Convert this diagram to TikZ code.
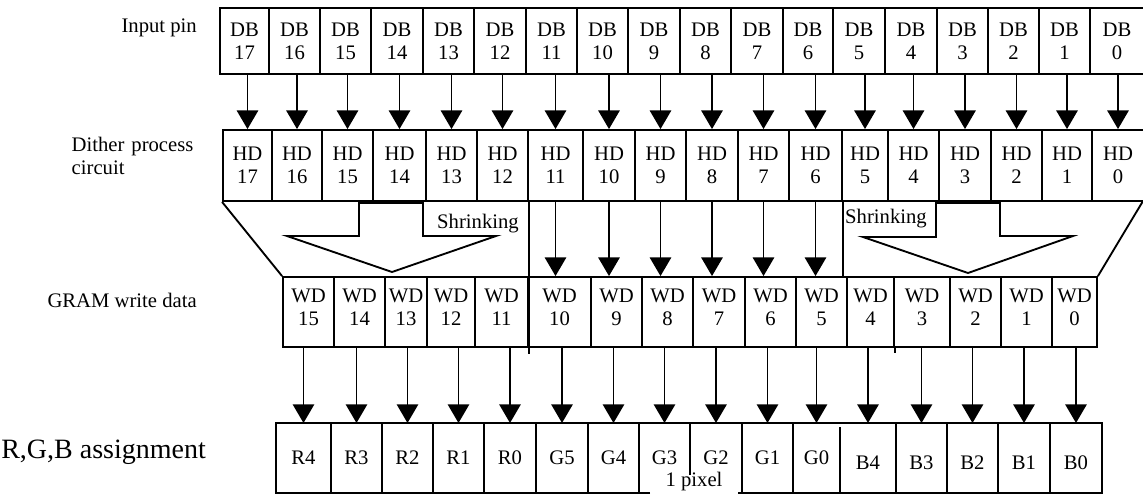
\documentclass[tikz,border=0pt]{standalone}
\usepackage{fontspec}
\setmainfont{Liberation Serif}
\usepackage{tikz}
\usetikzlibrary{arrows.meta, calc}

\newcommand\boxfont{\fontsize{15.5}{17.5}\selectfont}

\tikzset{
	cell/.style={draw, line width=1.4pt, inner sep=0pt, align=center, font=\boxfont},
	bit/.style={inner sep=0pt, font=\boxfont},
	lbl/.style={inner sep=0pt, font=\boxfont},
	wire/.style={line width=1.4pt, line join=miter},
	arr/.style={-{Triangle[width=16pt,length=14pt]}, line width=1.4pt},
}

\begin{document}
\begin{tikzpicture}[x=0.75pt, y=-0.75pt]
	\useasboundingbox (0,0) rectangle (1143,494);

	% row captions
	\node[lbl, anchor=base east] (pinlbl) at (197,32) {Input pin};
	\node[lbl, anchor=east, text width=93.75pt, align=left] (ditherlbl) at (197,156)
		{\makebox[\linewidth][s]{Dither process}\\circuit};
	\node[lbl, anchor=base east] (gramlbl) at (197,307) {GRAM write data};
	\node[lbl, anchor=base west, font=\fontsize{21}{24}\selectfont] (rgblbl) at (1,458) {R,G,B assignment};

	% input pins
	\foreach \xl/\xr/\n in {220/269/17, 269/320/16, 320/371/15, 371/423/14, 423/474/13, 474/526/12,
		526/577/11, 577/628/10, 628/680/9, 680/731/8, 731/783/7, 783/833/6,
		833/885/5, 885/937/4, 937/988/3, 988/1039/2, 1039/1090/1, 1090/1144/0}
		\node[cell, minimum width={(\xr-\xl)*0.75pt}, minimum height=49.5pt] (db\n) at ({(\xl+\xr)/2},41) {DB\\\n};

	% dither outputs
	\foreach \xl/\xr/\n in {223/272/17, 272/322/16, 322/373/15, 373/426/14, 426/477/13, 477/528/12,
		528/583/11, 583/635/10, 635/686/9, 686/738/8, 738/789/7, 789/842/6,
		842/888/5, 888/939/4, 939/991/3, 991/1042/2, 1042/1092/1, 1092/1144/0}
		\node[cell, minimum width={(\xr-\xl)*0.75pt}, minimum height=53.25pt] (hd\n) at ({(\xl+\xr)/2},165.5) {HD\\\n};

	\foreach \n in {0,...,17}
		\draw[arr] (hd\n.north |- db\n.south) -- (hd\n.north);

	% GRAM write data
	\foreach \xl/\xr/\n in {283/334/15, 334/385/14, 385/427/13, 427/475/12, 475/528/11, 528/591/10,
		591/642/9, 642/693/8, 693/745/7, 745/796/6, 796/847/5, 847/894/4,
		894/950/3, 950/1001/2, 1001/1052/1, 1052/1097/0}
		\node[cell, text depth=7pt, minimum width={(\xr-\xl)*0.75pt}, minimum height=52.5pt] (wd\n) at ({(\xl+\xr)/2},312) {WD\\\n};

	\foreach \n in {6,...,11}
		\draw[arr] (hd\n.south) -- (hd\n.south |- wd15.north);

	% shrinking of the outer bits
	\draw[wire] (hd17.south west) -- (wd15.north west);
	\draw[wire] (1143,201) -- (wd0.north east);
	\draw[wire] (hd12.south east) -- ($(wd11.south east)+(0,6)$);
	\draw[wire] (hd6.south east) -- (hd6.south east |- wd5.north);
	\draw[wire] (wd4.south east) -- ++(0,5);
	\draw[wire] (287,236) -- (359,236) -- (359,203) -- (423,203) -- (423,236) -- (496,236) -- (392,272) -- cycle;
	\draw[wire] (863,237) -- (936,237) -- (936,203) -- (1000,203) -- (1000,236) -- (1073,236) -- (968,273) -- cycle;
	\node[lbl] (shrinkl) at (478,224) {Shrinking};
	\node[lbl] (shrinkr) at (886,219) {Shrinking};

	% R,G,B assignment
	\coordinate (rgbtop) at (276,423);
	\draw[wire] (650,493) -| (rgbtop) -| (1102,493) -- (738,493);
	\foreach \x in {331,382,433,484,536,588,639,742,793,896,947,998,1050}
		\draw[wire] (\x,423) -- (\x,493);
	\draw[wire] (690,423) -- (690,475);
	\draw[wire] (840,427) -- (840,492);

	\foreach \xl/\xr/\c/\t in {276/331/r4/R4, 331/382/r3/R3, 382/433/r2/R2, 433/484/r1/R1, 484/536/r0/R0,
		536/588/g5/G5, 588/639/g4/G4, 639/690/g3/G3, 690/742/g2/G2, 742/793/g1/G1, 793/840/g0/G0}
		\node[bit] (\c) at ({(\xl+\xr)/2},458) {\t};
	\foreach \xl/\xr/\c/\t in {840/896/b4/B4, 896/947/b3/B3, 947/998/b2/B2, 998/1050/b1/B1, 1050/1102/b0/B0}
		\node[bit] (\c) at ({(\xl+\xr)/2},463) {\t};
	\node[lbl] (pixel) at (694,482) {1 pixel};

	\foreach \w/\c in {15/r4, 14/r3, 13/r2, 12/r1, 11/r0, 10/g5, 9/g4, 8/g3,
		7/g2, 6/g1, 5/g0, 4/b4, 3/b3, 2/b2, 1/b1, 0/b0}
		\draw[arr] (\c |- wd\w.south) -- (\c |- rgbtop);
\end{tikzpicture}
\end{document}
